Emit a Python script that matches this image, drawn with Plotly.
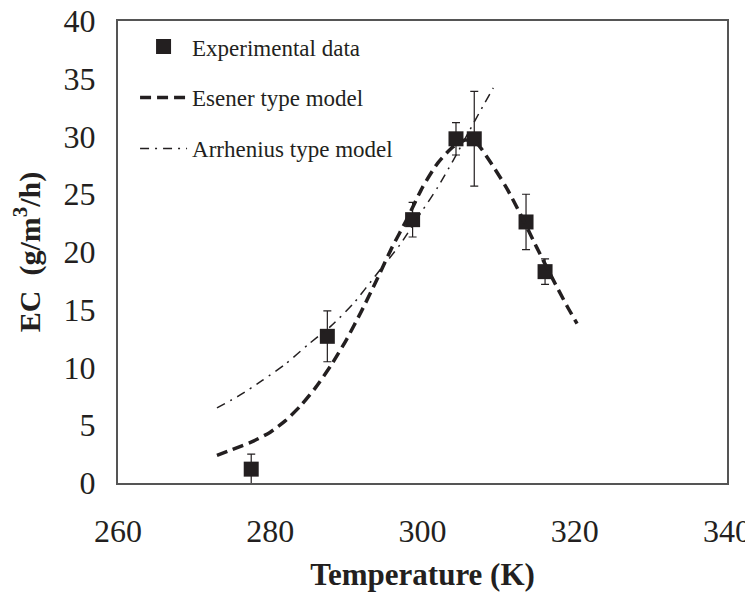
import plotly.graph_objects as go

# Experimental data
exp_T = [277.5, 287.5, 298.7, 304.4, 306.8, 313.6, 316.1]
exp_EC = [1.2, 12.7, 22.8, 29.8, 29.8, 22.6, 18.3]
exp_err = [1.3, 2.2, 1.5, 1.4, 4.1, 2.4, 1.1]

# Esener type model
es_T = [273, 275, 277.7, 280, 282, 284, 286, 288, 290, 292, 294, 296, 298, 300,
        302, 304, 305.6, 307, 309, 311, 313, 315, 317, 319, 320.3]
es_EC = [2.4, 2.9, 3.6, 4.4, 5.4, 6.7, 8.3, 10.2, 12.4, 14.9, 17.6, 20.4, 22.9, 25.6,
         27.7, 29.1, 29.7, 29.5, 27.7, 25.6, 23.1, 20.4, 17.8, 15.3, 13.8]

# Arrhenius type model
ar_T = [273, 276, 279, 282, 285, 288, 291, 294, 297, 300, 302, 304, 306, 308, 309.3]
ar_EC = [6.5, 7.6, 8.9, 10.3, 12.0, 13.6, 15.6, 18.1, 20.6, 23.6, 25.6, 27.9, 30.3, 32.7, 34.2]

x_ticks = [260, 280, 300, 320, 340]
y_ticks = [0, 5, 10, 15, 20, 25, 30, 35, 40]

x_title = "<b>Temperature (K)</b>"
y_title = "<b>EC  (g/m<sup>3</sup>/h)</b>"

ink = "#231f20"
serif = "Liberation Serif, Times New Roman, serif"

fig = go.Figure()
fig.add_trace(go.Scatter(
    x=exp_T, y=exp_EC, mode="markers", name="Experimental data",
    legendgroup="a",
    marker=dict(symbol="square", size=15, color=ink),
    error_y=dict(type="data", array=exp_err, visible=True, color=ink, thickness=1.2, width=4),
))
fig.add_trace(go.Scatter(
    x=es_T, y=es_EC, mode="lines", name="Esener type model", legendgroup="b",
    line=dict(color=ink, width=3.5, dash="11px,6px", shape="spline", smoothing=0.6),
))
fig.add_trace(go.Scatter(
    x=ar_T, y=ar_EC, mode="lines", name="Arrhenius type model", legendgroup="c",
    line=dict(color=ink, width=1.5, dash="9px,6px,2px,6px", shape="spline", smoothing=0.6),
))

fig.update_layout(
    width=753, height=602,
    margin=dict(l=110, r=34, t=13, b=127, autoexpand=False),
    paper_bgcolor="white", plot_bgcolor="white",
    font=dict(family=serif, color=ink),
    showlegend=True,
    legend=dict(
        x=0.028, y=0.991, xanchor="left", yanchor="top",
        font=dict(family=serif, size=23, color=ink),
        bgcolor="rgba(0,0,0,0)", itemwidth=47,
        traceorder="grouped", tracegroupgap=18,
    ),
    xaxis=dict(
        range=[260, 340], tickvals=x_ticks, ticks="", showgrid=False, zeroline=False,
        showline=True, linecolor="#555555", linewidth=2, mirror=True, automargin=False,
        tickfont=dict(family=serif, size=32, color=ink),
        ticklabelstandoff=19, ticklabeloverflow="allow",
        title=dict(text=x_title, font=dict(family=serif, size=31, color=ink), standoff=15),
    ),
    yaxis=dict(
        range=[0, 40], tickvals=y_ticks, ticks="", showgrid=False, zeroline=False,
        showline=True, linecolor="#555555", linewidth=2, mirror=True, automargin=False,
        tickfont=dict(family=serif, size=32, color=ink),
        ticklabelstandoff=14, ticklabeloverflow="allow",
        title=dict(text=y_title, font=dict(family=serif, size=30, color=ink), standoff=36),
    ),
)

fig.write_html("out.html")
